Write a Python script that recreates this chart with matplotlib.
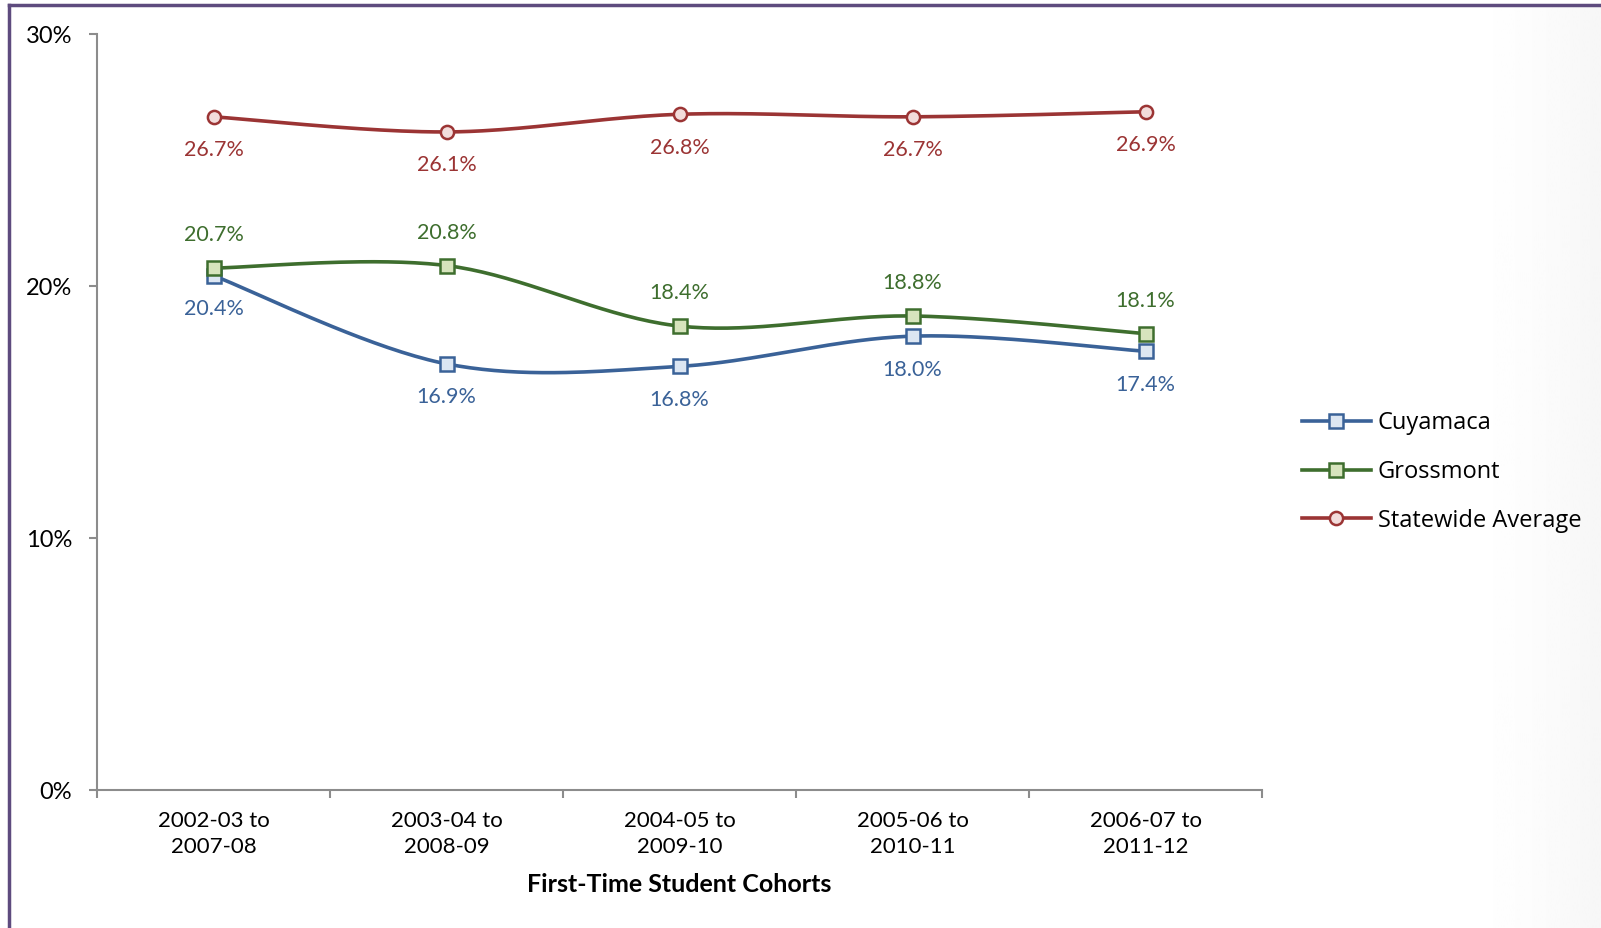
import numpy as np
import matplotlib.pyplot as plt
from matplotlib.lines import Line2D

plt.rcParams['font.family'] = ['Lato', 'DejaVu Sans']

# data
cohorts = ['2002-03 to\n2007-08', '2003-04 to\n2008-09', '2004-05 to\n2009-10',
           '2005-06 to\n2010-11', '2006-07 to\n2011-12']
cuyamaca = [20.4, 16.9, 16.8, 18.0, 17.4]
grossmont = [20.7, 20.8, 18.4, 18.8, 18.1]
statewide = [26.7, 26.1, 26.8, 26.7, 26.9]
yticks = [0, 10, 20, 30]


def smooth(x, y, n=40):
    # excel-like smoothed line (cubic bezier, tension 1/6)
    x = np.asarray(x, float); y = np.asarray(y, float)
    px = np.r_[x[0], x, x[-1]]; py = np.r_[y[0], y, y[-1]]
    t = np.linspace(0, 1, n)
    xs, ys = [], []
    for i in range(len(x) - 1):
        p0 = np.array([px[i+1], py[i+1]]); p3 = np.array([px[i+2], py[i+2]])
        p1 = p0 + (p3 - np.array([px[i], py[i]])) / 6
        p2 = p3 - (np.array([px[i+3], py[i+3]]) - p0) / 6
        b = ((1-t)**3)[:, None]*p0 + (3*(1-t)**2*t)[:, None]*p1 \
            + (3*(1-t)*t**2)[:, None]*p2 + (t**3)[:, None]*p3
        xs.append(b[:, 0]); ys.append(b[:, 1])
    return np.concatenate(xs), np.concatenate(ys)


W, H = 1601, 928
fig = plt.figure(figsize=(W/100, H/100 + 0.004), dpi=100)
ax = fig.add_axes([97/W, 1-790/H, (1262-97)/W, (790-34)/H])

series = [
    ('Cuyamaca', cuyamaca, '#3A6298', '#DCE6F2', 's', -33),
    ('Grossmont', grossmont, '#3E6E2E', '#D7E4BD', 's', 33),
    ('Statewide Average', statewide, '#9B3434', '#F2DCDB', 'o', -33),
]
x = np.arange(len(cohorts))
handles = []
for name, vals, col, fill, mk, off in series:
    sx, sy = smooth(x, vals)
    ax.plot(sx, sy, color=col, lw=2.6, zorder=2, solid_capstyle='round')
    ax.plot(x, vals, ls='none', marker=mk, ms=9.5, mfc=fill, mec=col, mew=1.8, zorder=3)
    for xi, v in zip(x, vals):
        ax.annotate(f'{v:.1f}%', (xi, v), xytext=(0, off), textcoords='offset pixels',
                    ha='center', va='center', color=col, fontsize=15.5)
    handles.append(Line2D([], [], color=col, lw=2.6, marker=mk, ms=9.5, mfc=fill,
                          mec=col, mew=1.8, label=name))

ax.set_xlim(-0.5, len(cohorts) - 0.5)
ax.set_ylim(0, 30)
ax.set_yticks(yticks)
ax.set_yticklabels([f'{v}%' for v in yticks], fontsize=17)
ax.set_xticks(x)
ax.set_xticklabels(cohorts, fontsize=16, linespacing=1.35)
ax.set_xticks(np.arange(len(cohorts) + 1) - 0.5, minor=True)
ax.tick_params(axis='x', which='major', length=0, pad=15)
ax.tick_params(axis='x', which='minor', length=6, width=1.5, color='#8C8C8C')
ax.tick_params(axis='y', length=6, width=1.5, color='#8C8C8C', pad=12)
for s in ['top', 'right']:
    ax.spines[s].set_visible(False)
for s in ['left', 'bottom']:
    ax.spines[s].set_color('#8C8C8C')
    ax.spines[s].set_linewidth(1.5)
ax.set_xlabel('First-Time Student Cohorts', fontsize=18, fontweight='bold', labelpad=12)

fig.legend(handles=handles, loc='center left', bbox_to_anchor=(1281/W, 1-472/H),
           frameon=False, handlelength=2.9, handletextpad=0.3, labelspacing=1.05,
           prop={'family': ['Open Sans', 'DejaVu Sans'], 'size': 17})

# slide-like frame and right side shading
fig.add_artist(Line2D([9/W, 1], [1-5/H, 1-5/H], color='#5E4B7E', lw=2.5))
fig.add_artist(Line2D([9/W, 9/W], [0, 1-5/H], color='#5E4B7E', lw=2.5))
gax = fig.add_axes([1440/W, 0, 161/W, 1-7/H], zorder=-1)
grad = (1.0 - 0.035 * np.linspace(0, 1, 80) ** 2)[None, :]
gax.imshow(np.repeat(grad, 2, axis=0), cmap='gray', vmin=0, vmax=1, aspect='auto')
gax.axis('off')

fig.savefig('out.png', dpi=100)
